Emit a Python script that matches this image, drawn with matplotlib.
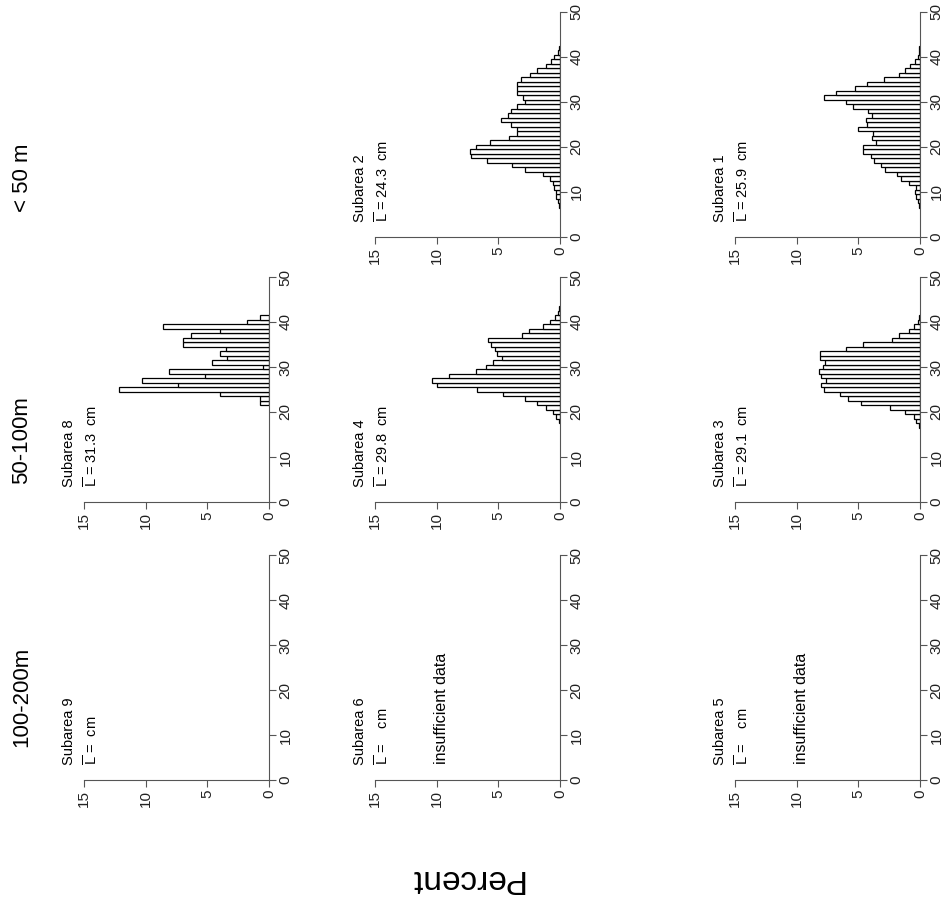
import numpy as np
import matplotlib.pyplot as plt

plt.rcParams['font.family'] = ['Liberation Sans', 'DejaVu Sans']
plt.rcParams['mathtext.fontset'] = 'custom'
plt.rcParams['mathtext.rm'] = 'Liberation Sans'

# depth zones (one per row of the rotated page)
depth_zones = ['< 50 m', '50-100m', '100-200m']

# percent per 1-cm length class; *_start is the first length class (cm)
sub1_start = 7
sub1_pct = [0.1, 0.2, 0.3, 0.4, 0.3, 0.9, 1.5, 1.9, 2.8, 3.2, 3.7, 4.0, 4.6, 4.6,
            3.6, 3.9, 3.8, 5.0, 4.3, 4.4, 3.9, 4.2, 5.4, 6.0, 7.8, 6.8, 5.3, 4.3,
            2.9, 1.7, 1.2, 0.8, 0.4, 0.2, 0.1, 0.05]

sub2_start = 7
sub2_pct = [0.1, 0.15, 0.3, 0.35, 0.5, 0.6, 0.8, 1.4, 2.8, 3.9, 5.9, 7.2, 7.3, 6.8,
            5.7, 4.1, 3.5, 3.5, 4.0, 4.8, 4.2, 4.0, 3.5, 2.8, 3.0, 3.5, 3.5, 3.5,
            3.2, 2.4, 1.9, 1.1, 0.75, 0.45, 0.2, 0.1]

sub3_start = 17
sub3_pct = [0.1, 0.3, 0.5, 1.2, 2.4, 4.8, 5.8, 6.5, 7.8, 8.0, 7.6, 8.0, 8.2, 7.9,
            7.7, 8.1, 8.1, 6.0, 4.6, 2.3, 1.7, 0.9, 0.5, 0.2, 0.1]

sub4_start = 18
sub4_pct = [0.1, 0.3, 0.6, 1.1, 1.9, 2.8, 4.6, 6.7, 10.0, 10.4, 9.0, 6.8, 6.0, 5.4,
            4.7, 5.1, 5.3, 5.6, 5.8, 3.1, 2.5, 1.4, 0.8, 0.4, 0.2, 0.1]

sub8_start = 22
sub8_pct = [0.7, 0.7, 4.0, 12.2, 7.4, 10.3, 5.2, 8.1, 0.5, 4.6, 3.4, 4.0, 3.5,
            7.0, 7.0, 6.3, 4.0, 8.6, 1.8, 0.7]

# name, row, col, first class, percents, mean length label, note
panels = [
    ('Subarea 2', 0, 1, sub2_start, sub2_pct, '24.3  cm', None),
    ('Subarea 1', 0, 2, sub1_start, sub1_pct, '25.9  cm', None),
    ('Subarea 8', 1, 0, sub8_start, sub8_pct, '31.3  cm', None),
    ('Subarea 4', 1, 1, sub4_start, sub4_pct, '29.8  cm', None),
    ('Subarea 3', 1, 2, sub3_start, sub3_pct, '29.1  cm', None),
    ('Subarea 9', 2, 0, 0, [], ' cm', None),
    ('Subarea 6', 2, 1, 0, [], '   cm', 'insufficient data'),
    ('Subarea 5', 2, 2, 0, [], '   cm', 'insufficient data'),
]

W, H = 950, 905
col_left = [84, 375, 735]
row_base = [237, 502, 780]
pw, ph = 185, 225

fig = plt.figure(figsize=(W / 100, H / 100), dpi=100)

for name, r, c, start, pct, mean_txt, note in panels:
    ax = fig.add_axes([col_left[c] / W, 1 - row_base[r] / H, pw / W, ph / H])
    if pct:
        lengths = np.arange(start, start + len(pct))
        ax.barh(lengths, pct, height=1.0, color='white', edgecolor='black',
                linewidth=0.9)
    ax.set_xlim(15, 0)
    ax.set_ylim(0, 50)
    ax.set_xticks([0, 5, 10, 15])
    ax.set_yticks([0, 10, 20, 30, 40, 50])
    ax.yaxis.tick_right()
    for s in ['left', 'top']:
        ax.spines[s].set_visible(False)
    for s in ['right', 'bottom']:
        ax.spines[s].set_color('#555555')
        ax.spines[s].set_linewidth(0.8)
    ax.tick_params(direction='out', length=5, width=0.8, color='#555555',
                   labelsize=11, labelcolor='#222222', labelrotation=90, pad=2)
    for t in ax.get_yticklabels():
        t.set_va('center')
    ax.patch.set_alpha(0)

    ax.text(16.2, 3.3, name, rotation=90, ha='center', va='bottom',
            fontsize=10.5, clip_on=False)
    ax.text(14.35, 3.3, r'$\overline{\mathrm{L}}$ = ' + mean_txt, rotation=90,
            ha='center', va='bottom', fontsize=10.5, clip_on=False)
    if note:
        ax.text(9.6, 3.6, note, rotation=90, ha='center', va='bottom',
                fontsize=11.5, clip_on=False)

zone_y = [178, 440, 697]
for zone, y in zip(depth_zones, zone_y):
    fig.text(22 / W, 1 - y / H, zone, rotation=90, ha='center', va='center',
             fontsize=16)

fig.text(466 / W, 1 - 878 / H, 'Percent', rotation=180, ha='center',
         va='center', fontsize=24)

fig.savefig('out.png', dpi=100)
